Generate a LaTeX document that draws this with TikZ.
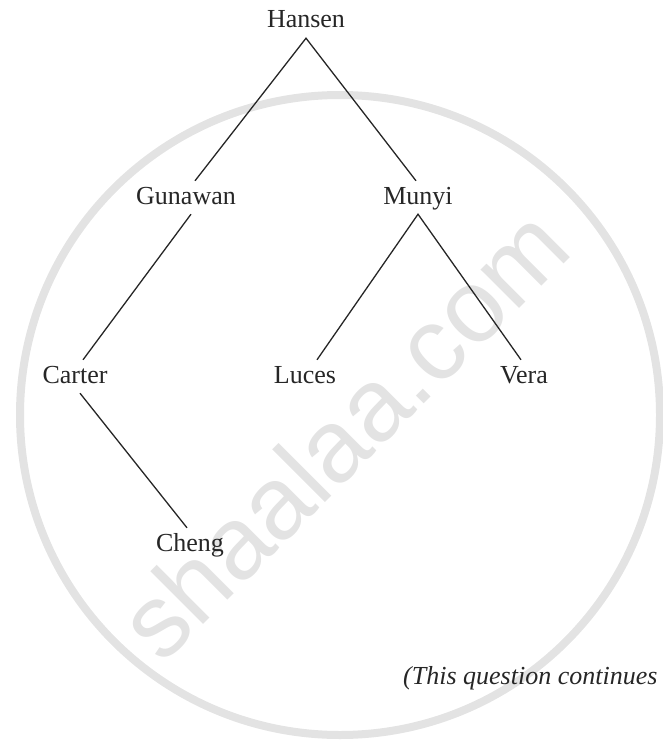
\documentclass[tikz,border=0pt]{standalone}
\usepackage{fontspec}
\setmainfont{Liberation Serif}
\newfontfamily\wmfont{Liberation Sans}
\begin{document}
\begin{tikzpicture}[x=1pt,y=-1pt,
  person/.style={inner xsep=2pt, inner ysep=5pt, text height=18pt, text depth=5pt,
    font=\fontsize{26}{30}\selectfont, anchor=base, text=black!85},
  edge/.style={line width=1.3pt, black!85},
  wm/.style={gray!22}]
\useasboundingbox (0,0) rectangle (662,749);
% watermark
\draw[wm, line width=8pt] (340,415) circle (320pt);
\node[wm, rotate=45, font=\wmfont\fontsize{103}{110}\selectfont] (wmtext) at (343,433) {shaalaa.com};
% tree
\node[person] (hansen) at (306,28) {Hansen};
\node[person] (gunawan) at (186,204) {Gunawan};
\node[person] (munyi) at (418,204) {Munyi};
\node[person] (carter) at (75,383) {Carter};
\node[person] (luces) at (305,383) {Luces};
\node[person] (vera) at (524,383) {Vera};
\node[person] (cheng) at (190,551) {Cheng};
\draw[edge] ([xshift=9pt]gunawan.north) -- (hansen.south) -- ([xshift=-2pt]munyi.north);
\draw[edge] ([xshift=5pt]gunawan.south) -- ([xshift=8pt]carter.north);
\draw[edge] ([xshift=12pt]luces.north) -- (munyi.south) -- ([xshift=-3pt]vera.north);
\draw[edge] ([xshift=5pt]carter.south) -- ([xshift=-3pt]cheng.north);
\node[anchor=base west, inner sep=0pt, font=\itshape\fontsize{26}{30}\selectfont, text=black!85] (note) at (403,684) {(This question continues};
\end{tikzpicture}
\end{document}
